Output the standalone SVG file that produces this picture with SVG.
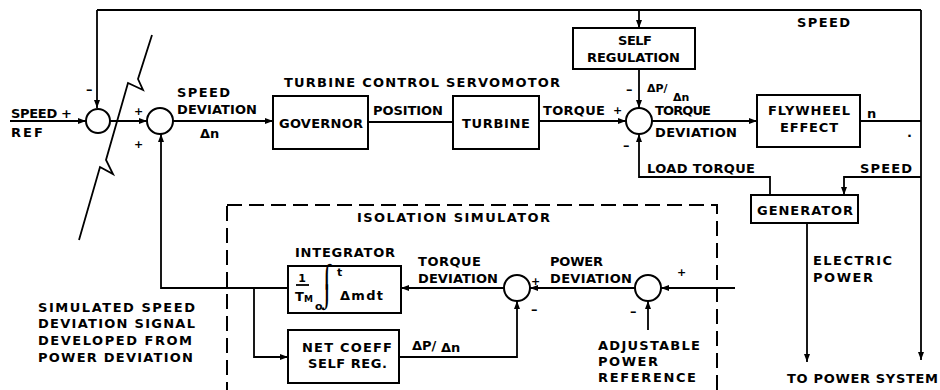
<svg xmlns="http://www.w3.org/2000/svg" width="940" height="390" viewBox="0 0 940 390">
<style>
.bg{fill:#fff}
.box{fill:none;stroke:#000;stroke-width:2}
.sum{fill:#fff;stroke:#000;stroke-width:2}
.ln{fill:none;stroke:#000;stroke-width:1.8}
.dash{fill:none;stroke:#000;stroke-width:2;stroke-dasharray:15 7}
.t{font-family:"DejaVu Sans","Liberation Sans",sans-serif;font-weight:bold;font-size:13px;fill:#000}
.s{font-family:"DejaVu Sans","Liberation Sans",sans-serif;font-weight:bold;font-size:11px;fill:#000}
.ig{font-family:"DejaVu Sans",sans-serif;font-size:22px;fill:#000}
.m{text-anchor:middle}
</style>
<defs>
<marker id="ar" markerUnits="userSpaceOnUse" markerWidth="9" markerHeight="7" refX="8" refY="3" orient="auto">
<path d="M0,0 L8,3 L0,6 z" fill="#000"/>
</marker>
</defs>
<rect class="bg" x="0" y="0" width="940" height="390"/>

<g id="connectors">
<path class="ln" d="M10,121 H86" marker-end="url(#ar)"/>
<path class="ln" d="M110,121 H147" marker-end="url(#ar)"/>
<path class="ln" d="M173,121 H273" marker-end="url(#ar)"/>
<path class="ln" d="M368,122 H453"/>
<path class="ln" d="M539,121 H626" marker-end="url(#ar)"/>
<path class="ln" d="M652,121 H757" marker-end="url(#ar)"/>
<path class="ln" d="M860,121 H921"/>
<path class="ln" d="M97,10 H921"/>
<path class="ln" d="M921,10 V360" marker-end="url(#ar)"/>
<path class="ln" d="M97,10 V108" marker-end="url(#ar)"/>
<path class="ln" d="M639,10 V28" marker-end="url(#ar)"/>
<path class="ln" d="M639,69 V108" marker-end="url(#ar)"/>
<path class="ln" d="M770,195 V177 H639 V134" marker-end="url(#ar)"/>
<path class="ln" d="M921,177 H844 V195" marker-end="url(#ar)"/>
<path class="ln" d="M807,223 V362" marker-end="url(#ar)"/>
<path class="ln" d="M735,288 H661" marker-end="url(#ar)"/>
<path class="ln" d="M635,288 H530" marker-end="url(#ar)"/>
<path class="ln" d="M504,288 H401" marker-end="url(#ar)"/>
<path class="ln" d="M288,288 H161 V134" marker-end="url(#ar)"/>
<path class="ln" d="M254,288 V357 H288" marker-end="url(#ar)"/>
<path class="ln" d="M399,357 H517 V301" marker-end="url(#ar)"/>
<path class="ln" d="M648,330 V301" marker-end="url(#ar)"/>
<polyline class="ln" points="152,35 138,79 143,90 128,83 106,160 113,174 100,167 79,240"/>
</g>

<g id="isolation-simulator">
<rect class="dash" x="227" y="205" width="490" height="200"/>
<text class="t" x="357" y="222" textLength="193">ISOLATION SIMULATOR</text>
</g>

<g id="sum1"><circle class="sum" cx="98" cy="121" r="12"/></g>
<g id="sum2"><circle class="sum" cx="160" cy="121" r="13"/></g>
<g id="sum3"><circle class="sum" cx="639" cy="121" r="13"/></g>
<g id="sum4"><circle class="sum" cx="517" cy="288" r="13"/></g>
<g id="sum5"><circle class="sum" cx="648" cy="288" r="13"/></g>

<g id="governor">
<rect class="box" x="273" y="96" width="95" height="53"/>
<text class="t" x="279" y="128" textLength="84">GOVERNOR</text>
</g>
<g id="turbine">
<rect class="box" x="453" y="96" width="86" height="53"/>
<text class="t" x="462" y="128" textLength="68">TURBINE</text>
</g>
<g id="self-regulation">
<rect class="box" x="573" y="28" width="122" height="41"/>
<text class="t" x="618" y="45" textLength="34">SELF</text>
<text class="t" x="587" y="62" textLength="93">REGULATION</text>
</g>
<g id="flywheel">
<rect class="box" x="757" y="95" width="103" height="52"/>
<text class="t" x="768" y="115" textLength="82">FLYWHEEL</text>
<text class="t" x="780" y="132" textLength="58">EFFECT</text>
</g>
<g id="generator">
<rect class="box" x="751" y="195" width="107" height="28"/>
<text class="t" x="757" y="215" textLength="96">GENERATOR</text>
</g>
<g id="integrator">
<text class="t" x="295" y="257" textLength="100">INTEGRATOR</text>
<rect class="box" x="288" y="266" width="113" height="47"/>
<text class="s m" x="302" y="282">1</text>
<path class="ln" d="M296,285 H309"/>
<text class="t" x="295" y="301">T<tspan font-size="9" dy="1">M</tspan></text>
<text class="ig" x="321" y="284">⌠<tspan x="321" y="305">⌡</tspan></text>
<text class="s" x="337" y="276" font-size="10">t</text>
<text class="s" x="315" y="310" font-size="9">o</text>
<text class="t" x="340" y="300" textLength="43">Δmdt</text>
</g>
<g id="net-coeff">
<rect class="box" x="288" y="330" width="111" height="53"/>
<text class="t" x="302" y="352" textLength="90">NET COEFF</text>
<text class="t" x="308" y="368" textLength="79">SELF REG.</text>
</g>

<g id="labels">
<text class="t" x="11" y="118" textLength="61">SPEED +</text>
<text class="t" x="11" y="137" textLength="32">REF</text>
<text class="t" x="86" y="94">–</text>
<text class="s" x="134" y="115">+</text>
<text class="s" x="134" y="148">+</text>
<text class="t" x="177" y="97" textLength="53">SPEED</text>
<text class="t" x="177" y="114" textLength="80">DEVIATION</text>
<text class="t" x="200" y="138">Δn</text>
<text class="t" x="284" y="87" textLength="276">TURBINE CONTROL SERVOMOTOR</text>
<text class="t" x="373" y="115" textLength="70">POSITION</text>
<text class="t" x="543" y="115" textLength="62">TORQUE</text>
<text class="s" x="613" y="114">+</text>
<text class="t" x="626" y="94">–</text>
<text class="s" x="647" y="92">ΔP/</text>
<text class="s" x="673" y="101">Δn</text>
<text class="t" x="655" y="115" textLength="56">TORQUE</text>
<text class="t" x="655" y="137" textLength="82">DEVIATION</text>
<text class="t" x="623" y="150">–</text>
<text class="t" x="867" y="118">n</text>
<text class="t" x="907" y="137">.</text>
<text class="t" x="797" y="27" textLength="53">SPEED</text>
<text class="t" x="647" y="173" textLength="108">LOAD TORQUE</text>
<text class="t" x="860" y="173" textLength="52">SPEED</text>
<text class="t" x="813" y="265" textLength="79">ELECTRIC</text>
<text class="t" x="813" y="282" textLength="60">POWER</text>
<text class="t" x="787" y="383" textLength="151">TO POWER SYSTEM</text>
<text class="t" x="418" y="266" textLength="63">TORQUE</text>
<text class="t" x="418" y="283" textLength="80">DEVIATION</text>
<text class="s" x="531" y="285">+</text>
<text class="t" x="531" y="314">–</text>
<text class="t" x="550" y="266" textLength="53">POWER</text>
<text class="t" x="550" y="283" textLength="82">DEVIATION</text>
<text class="s" x="677" y="276">+</text>
<text class="t" x="630" y="316">–</text>
<text class="t" x="412" y="350">ΔP/ <tspan dy="2">Δn</tspan></text>
<text class="t" x="598" y="350" textLength="102">ADJUSTABLE</text>
<text class="t" x="598" y="366" textLength="60">POWER</text>
<text class="t" x="598" y="382" textLength="98">REFERENCE</text>
<text class="t" x="38" y="312" textLength="157">SIMULATED SPEED</text>
<text class="t" x="38" y="328" textLength="157">DEVIATION SIGNAL</text>
<text class="t" x="38" y="345" textLength="154">DEVELOPED FROM</text>
<text class="t" x="38" y="362" textLength="155">POWER DEVIATION</text>
</g>
</svg>
